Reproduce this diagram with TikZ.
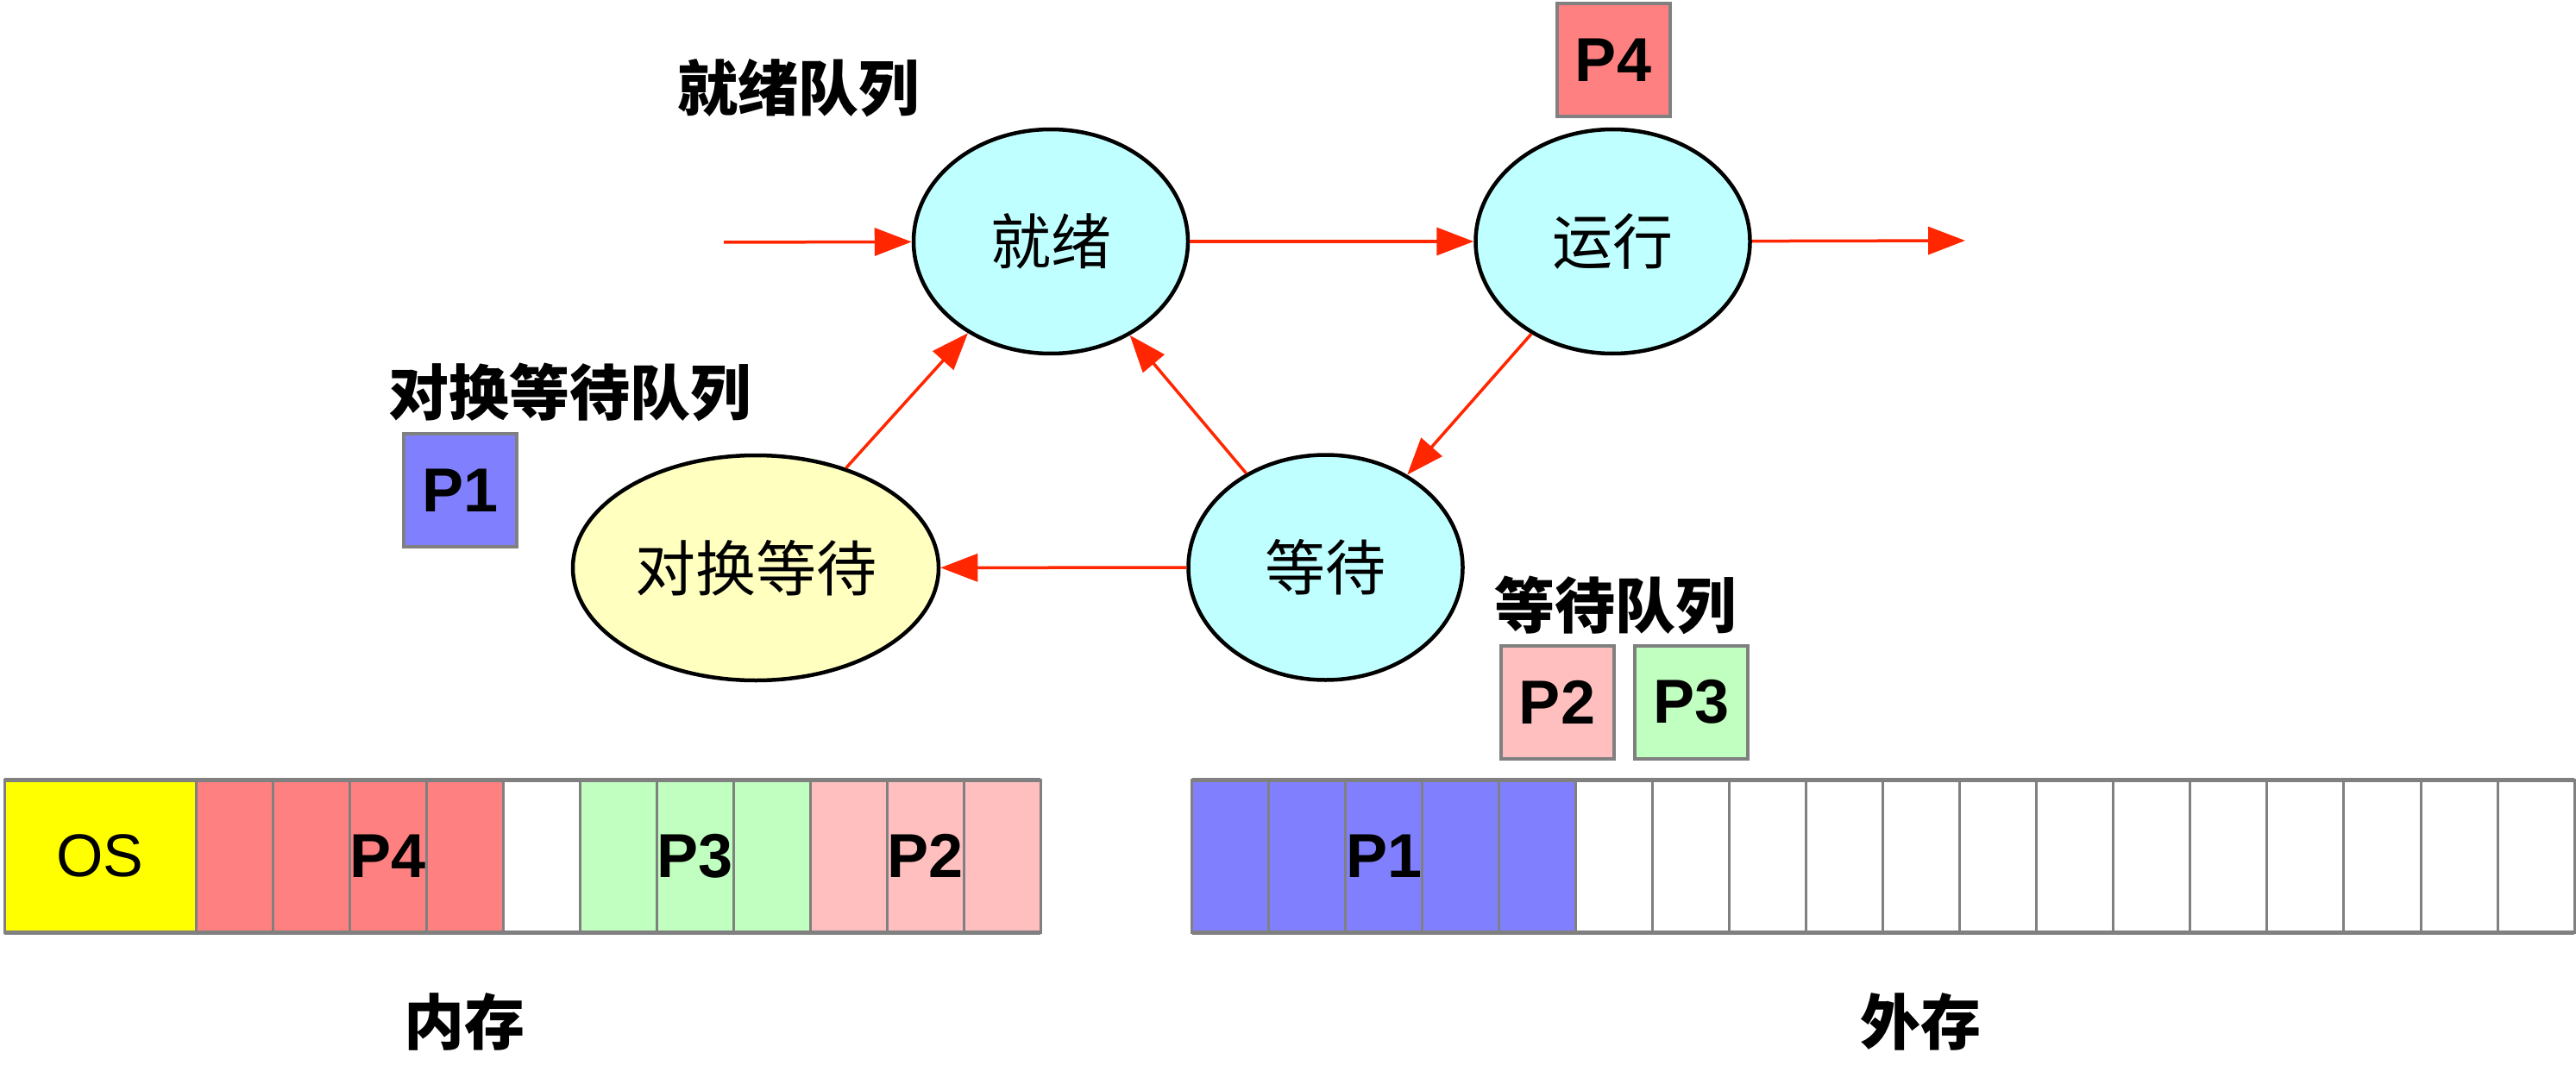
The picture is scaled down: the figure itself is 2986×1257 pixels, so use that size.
\documentclass[tikz,border=0pt]{standalone}
\usepackage{fontspec}
\setmainfont{Liberation Sans}
\newfontfamily\cjk{Noto Sans CJK SC}
\usetikzlibrary{shapes.geometric,arrows.meta}
\definecolor{cyanfill}{HTML}{BFFFFF}
\definecolor{swapfill}{HTML}{FFFFC0}
\definecolor{p4red}{HTML}{FF8080}
\definecolor{p2pink}{HTML}{FFBFBF}
\definecolor{p3green}{HTML}{C0FFC0}
\definecolor{p1blue}{HTML}{8080FF}
\definecolor{osyellow}{HTML}{FFFF00}
\definecolor{boxgray}{HTML}{808080}
\definecolor{arrowred}{HTML}{FF2600}
\begin{document}
\begin{tikzpicture}[x=1pt,y=-1pt,
  state/.style={ellipse, draw=black, line width=4.5pt, inner sep=0pt, font=\cjk\fontsize{70}{84}\selectfont},
  pbox/.style={draw=boxgray, line width=4pt, minimum size=131pt, inner sep=0pt, font=\bfseries\fontsize{72}{86}\selectfont},
  qlabel/.style={font=\cjk\bfseries\fontsize{70}{84}\selectfont, inner sep=0pt},
  flow/.style={draw=arrowred, line width=3.5pt, -{Triangle[length=43pt,width=32pt]}},
  cell/.style={draw=boxgray, line width=3pt},
  barline/.style={draw=boxgray, line width=5pt},
  plabel/.style={font=\bfseries\fontsize{72}{86}\selectfont, inner sep=0pt},
  oslabel/.style={font=\fontsize{70}{84}\selectfont, inner sep=0pt}
]
\useasboundingbox (0,0) rectangle (2986,1257);

% states
\node[state, fill=cyanfill, minimum width=318pt, minimum height=260pt] (ready) at (1218,280) {就绪};
\node[state, fill=cyanfill, minimum width=318pt, minimum height=260pt] (run) at (1869.5,280) {运行};
\node[state, fill=cyanfill, minimum width=318pt, minimum height=261pt] (wait) at (1536.5,658) {等待};
\node[state, fill=swapfill, minimum width=424pt, minimum height=261pt] (swap) at (876,658.5) {对换等待};

% connectors
\coordinate (in) at (839,281);
\coordinate (out) at (2278,279);
\draw[flow] (in) -- (ready);
\draw[flow] (ready) -- (run);
\draw[flow] (run) -- (out);
\draw[flow] (run) -- (wait);
\draw[flow] (wait) -- (ready);
\draw[flow] (swap) -- (ready);
\draw[flow] (wait) -- (swap);

% queue labels
\node[qlabel] (readyq) at (925,102) {就绪队列};
\node[qlabel] (swapq) at (660,455) {对换等待队列};
\node[qlabel] (waitq) at (1872,702) {等待队列};

% process boxes
\node[pbox, fill=p4red] (p4) at (1870,70) {P4};
\node[pbox, fill=p1blue] (p1) at (533.5,568.5) {P1};
\node[pbox, fill=p2pink] (p2) at (1805,814) {P2};
\node[pbox, fill=p3green] (p3) at (1960.5,814) {P3};

% main memory
\draw[cell, fill=osyellow] (5,904) rectangle (227,1081);
\foreach \i/\c in {0/p4red,1/p4red,2/p4red,3/p4red,4/white,5/p3green,6/p3green,7/p3green,8/p2pink,9/p2pink,10/p2pink}
  \draw[cell, fill=\c] ({227+89*\i},904) rectangle ({316+89*\i},1081);
\draw[barline] (5,904) -- (1206,904) (5,1081) -- (1206,1081);
\node[oslabel] (os) at (116,992.5) {OS};
\node[plabel] (m4) at (449.5,992.5) {P4};
\node[plabel] (m3) at (805.5,992.5) {P3};
\node[plabel] (m2) at (1072.5,992.5) {P2};

% external storage
\foreach \i in {0,...,4}
  \draw[cell, fill=p1blue] ({1381.5+89.03*\i},904) rectangle ({1381.5+89.03*(\i+1)},1081);
\foreach \i in {5,...,17}
  \draw[cell, fill=white] ({1381.5+89.03*\i},904) rectangle ({1381.5+89.03*(\i+1)},1081);
\draw[barline] (1381.5,904) -- (2984,904) (1381.5,1081) -- (2984,1081);
\node[plabel] (d1) at ({1381.5+2.5*89.03},992.5) {P1};

% storage labels
\node[qlabel] (mem) at (538.6,1185) {内存};
\node[qlabel] (disk) at (2226,1185) {外存};
\end{tikzpicture}
\end{document}
